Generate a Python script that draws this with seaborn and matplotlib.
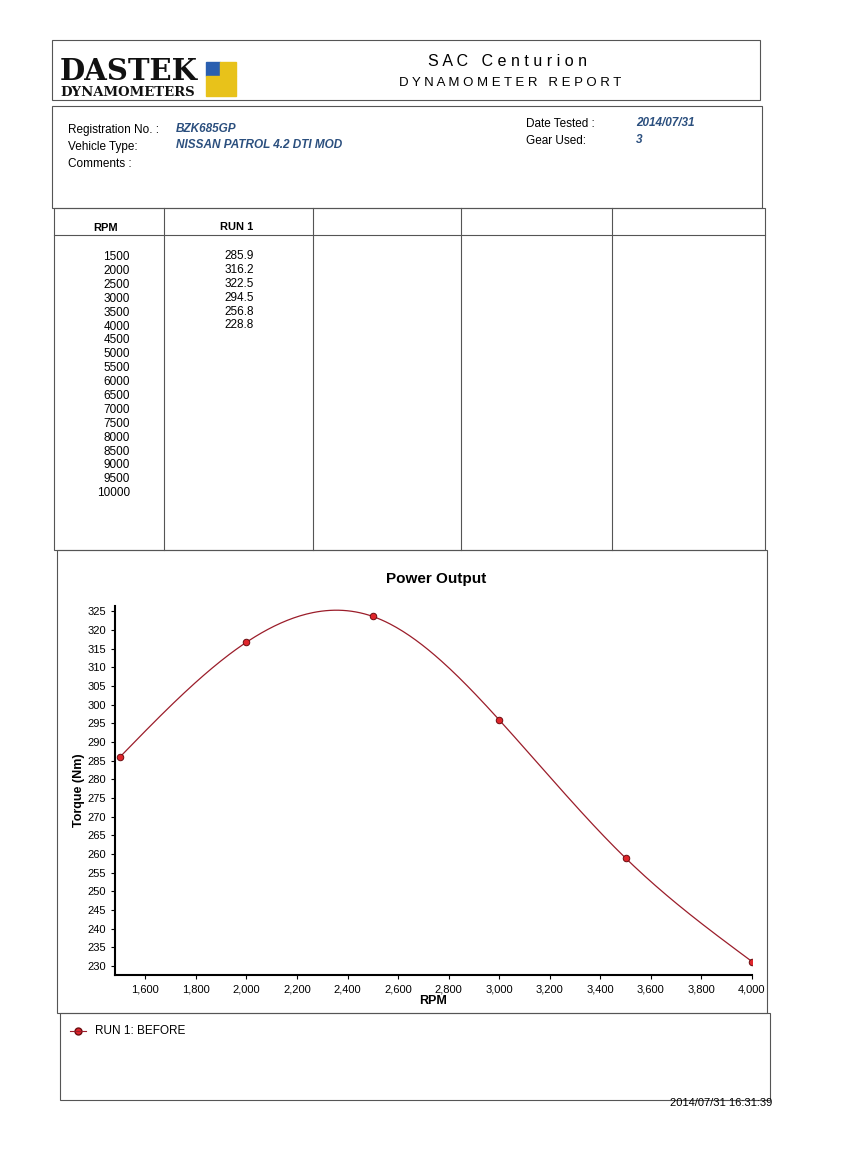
import numpy as np
import matplotlib
matplotlib.use("Agg")
import matplotlib.pyplot as plt
import seaborn as sns
import pandas as pd
from matplotlib.patches import Rectangle

table_rpm = [1500,2000,2500,3000,3500,4000,4500,5000,5500,6000,6500,7000,7500,8000,8500,9000,9500,10000]
table_run1 = ["285.9","316.2","322.5","294.5","256.8","228.8"]
chart_rpm = [1500, 2000, 2500, 3000, 3500, 4000]
chart_torque = [286.0, 316.7, 323.6, 295.9, 258.9, 231.2]
x_ticks = [1600,1800,2000,2200,2400,2600,2800,3000,3200,3400,3600,3800,4000]
y_ticks = list(range(230, 330, 5))

W, H = 850, 1169
fig = plt.figure(figsize=(8.5, 11.69), dpi=100)
fig.patch.set_facecolor("white")
bg = fig.add_axes([0, 0, 1, 1]); bg.set_xlim(0, W); bg.set_ylim(H, 0); bg.axis("off")
F = "Liberation Sans"
blue = "#2b4f7e"

def box(x0, y0, x1, y1, lw=0.8):
    bg.add_patch(Rectangle((x0, y0), x1-x0, y1-y0, fill=False, ec="#555555", lw=lw))
def t(x, y, s, **kw):
    kw.setdefault("fontfamily", F); kw.setdefault("fontsize", 8.5); kw.setdefault("va", "center")
    bg.text(x, y, s, **kw)

# header
box(52, 40, 760, 100)
t(60, 72, "DASTEK", fontsize=21, fontweight="bold", fontfamily="DejaVu Serif", color="#111")
t(60, 93, "DYNAMOMETERS", fontsize=9.5, fontweight="bold", fontfamily="DejaVu Serif", color="#111")
bg.add_patch(Rectangle((206, 62), 14, 14, color="#2a5fb0"))
bg.add_patch(Rectangle((220, 62), 16, 14, color="#e8c21a"))
bg.add_patch(Rectangle((206, 76), 30, 20, color="#e8c21a"))
t(508, 61, "S A C   C e n t u r i o n", fontsize=11.5, ha="center")
t(510, 83, "D Y N A M O M E T E R   R E P O R T", fontsize=9.5, ha="center")

# info
box(52, 106, 762, 208)
t(68, 130, "Registration No. :"); t(68, 147, "Vehicle Type:"); t(68, 164, "Comments :")
t(176, 129, "BZK685GP", color=blue, fontweight="bold", style="italic")
t(176, 145, "NISSAN PATROL 4.2 DTI MOD", color=blue, fontweight="bold", style="italic")
t(526, 124, "Date Tested :"); t(526, 141, "Gear Used:")
t(636, 123, "2014/07/31", color=blue, fontweight="bold", style="italic")
t(636, 140, "3", color=blue, fontweight="bold", style="italic")

# table
box(54, 208, 765, 550)
bg.plot([54, 765], [235, 235], color="#555", lw=0.8)
for xv in [164, 313, 461, 612]:
    bg.plot([xv, xv], [208, 550], color="#555", lw=0.8)
t(106, 228, "RPM", ha="center", fontweight="bold", fontsize=8)
t(237, 227, "RUN 1", ha="center", fontweight="bold", fontsize=8)
for i, r in enumerate(table_rpm):
    t(130, 257 + i*13.9, str(r), ha="right")
for i, v in enumerate(table_run1):
    t(254, 256 + i*13.9, v, ha="right")

# chart box
box(57, 550, 767, 1013)
t(436, 579, "Power Output", fontsize=11, fontweight="bold", ha="center")

# natural cubic spline for smooth line
x = np.array(chart_rpm, float); y = np.array(chart_torque, float)
n = len(x); h = np.diff(x)
A = np.zeros((n, n)); b = np.zeros(n)
A[0, 0] = A[-1, -1] = 1
for i in range(1, n-1):
    A[i, i-1] = h[i-1]; A[i, i] = 2*(h[i-1]+h[i]); A[i, i+1] = h[i]
    b[i] = 6*((y[i+1]-y[i])/h[i] - (y[i]-y[i-1])/h[i-1])
M = np.linalg.solve(A, b)
xs, ys = [], []
for i in range(n-1):
    tt = np.linspace(x[i], x[i+1], 60)
    a = (x[i+1]-tt)/h[i]; c = (tt-x[i])/h[i]
    yy = a*y[i] + c*y[i+1] + ((a**3-a)*M[i] + (c**3-c)*M[i+1])*h[i]**2/6
    xs += list(tt); ys += list(yy)

L, R, T, B = 115, 752, 606, 975
ax = fig.add_axes([L/W, 1-B/H, (R-L)/W, (B-T)/H])
ax.plot(xs, ys, color="#9b1d2a", lw=0.9)
sns.scatterplot(data=pd.DataFrame({"rpm": chart_rpm, "tq": chart_torque}), x="rpm", y="tq", ax=ax,
                color="#e0252b", edgecolor="#6b0d10", s=22, linewidth=0.7, zorder=3)
ax.set_xlim(1480, 4000); ax.set_ylim(227.6, 326.4)
ax.set_xticks(x_ticks); ax.set_xticklabels([f"{v:,}" for v in x_ticks], fontfamily=F, fontsize=8)
ax.set_yticks(y_ticks); ax.set_yticklabels([str(v) for v in y_ticks], fontfamily=F, fontsize=8)
for s in ["top", "right"]: ax.spines[s].set_visible(False)
ax.spines["left"].set_linewidth(1.5); ax.spines["bottom"].set_linewidth(1.5)
ax.tick_params(length=3)
ax.set_xlabel("RPM", fontfamily=F, fontsize=9, fontweight="bold", labelpad=1)
ax.set_ylabel("Torque (Nm)", fontfamily=F, fontsize=9, fontweight="bold", labelpad=2)

# legend box
box(60, 1013, 770, 1100)
bg.plot([78], [1031], "o", color="#e0252b", mec="#6b0d10", ms=5)
bg.plot([70, 86], [1031, 1031], color="#9b1d2a", lw=0.8)
t(95, 1031, "RUN 1: BEFORE")
t(772, 1103, "2014/07/31 16:31:39", ha="right", fontsize=8)

fig.savefig("out.png", dpi=100, facecolor="white")
